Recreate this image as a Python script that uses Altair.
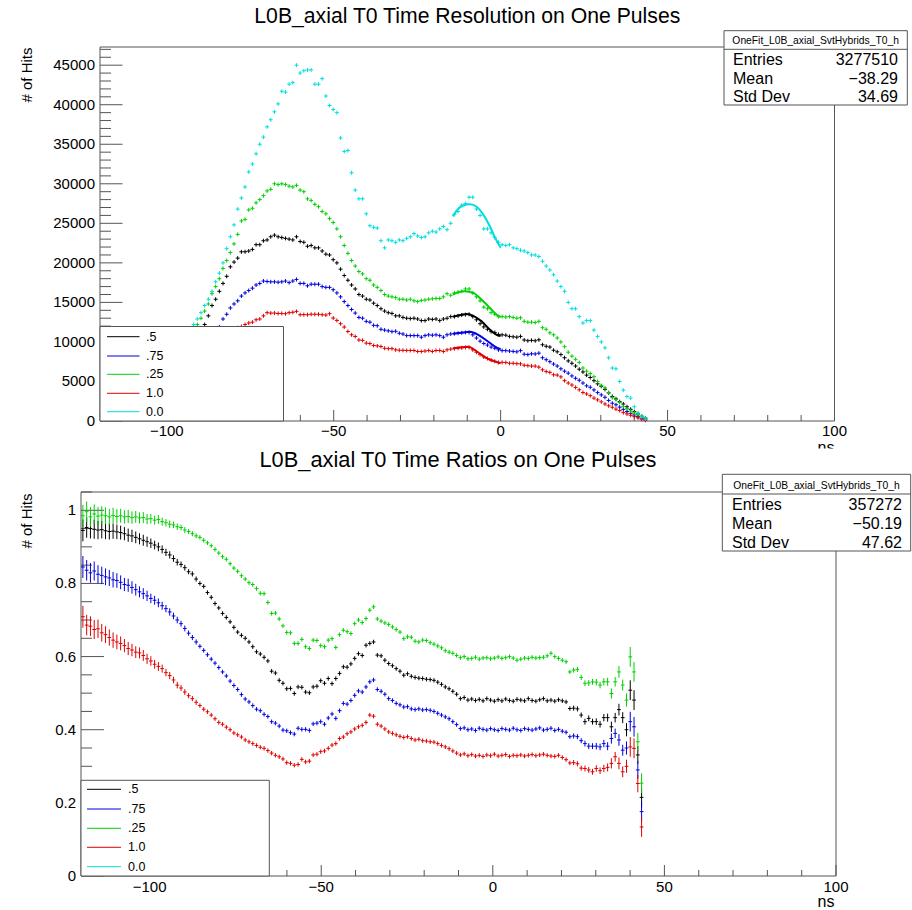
import altair as alt
import pandas as pd

FONT = "Liberation Sans"
FRAME = "#555555"
BIN_W = 1.1
FIRST_CENTER = -119.45

SERIES = [".5", ".75", ".25", "1.0", "0.0"]
SERIES_COLORS = ["#000000", "#0000e0", "#00d000", "#e00000", "#00dede"]

# T0 histograms (hits per 1.1 ns bin), first bin centred at -119.45 ns
cnt_half = [
    850, 945, 1080, 1220, 1360, 1540, 1730, 1950, 2180, 2450,
    2720, 3030, 3350, 3700, 4080, 4510, 4950, 5400, 5900, 6430,
    6980, 7560, 8180, 8820, 9480, 10180, 10900, 11600, 12200, 13300,
    14600, 15400, 16400, 17400, 18300, 19500, 20100, 20600, 21400, 21400,
    21500, 21700, 22300, 22300, 22800, 22900, 23300, 23500, 23300, 23200,
    23100, 23000, 22900, 23300, 22700, 22600, 22100, 22200, 21900, 21900,
    21500, 21100, 21000, 20400, 20000, 19200, 18400, 17800, 17200, 16700,
    16000, 15800, 15400, 15300, 14900, 14600, 14200, 13900, 13700, 13600,
    13300, 13300, 13100, 13000, 12950, 13000, 12900, 12700, 12700, 12900,
    12850, 12900, 12700, 12900, 13000, 13200, 13200, 13300, 13400, 13450,
    13500, 13200, 12800, 12300, 11900, 11600, 11300, 11200, 10950, 10900,
    10850, 10700, 10650, 10600, 10700, 10250, 10150, 10200, 10150, 10270,
    9640, 9450, 9350, 8950, 8750, 8400, 8000, 7600, 7300, 6950,
    6550, 6200, 5800, 5500, 5100, 4700, 4400, 4000, 3550, 3100,
    2800, 2450, 2150, 1800, 1480, 1180, 900, 600, 340,
]
cnt_three_quarter = [
    760, 840, 960, 1080, 1210, 1370, 1540, 1730, 1940, 2180,
    2420, 2690, 2970, 3280, 3620, 3990, 4370, 4780, 5210, 5660,
    6130, 6620, 7140, 7680, 8220, 8700, 9000, 9300, 9600, 10200,
    10800, 11300, 11900, 12900, 13500, 14300, 14800, 15200, 15800, 16200,
    16500, 16800, 17200, 17400, 17700, 17650, 17600, 17600, 17550, 17600,
    17700, 17500, 17700, 17900, 17400, 17400, 17100, 17300, 17300, 17300,
    17000, 16900, 16900, 16600, 16200, 15700, 15100, 14600, 14100, 13650,
    13100, 13000, 12600, 12500, 12100, 12050, 11600, 11500, 11400, 11300,
    11350, 11100, 11000, 10800, 10800, 10800, 10800, 10600, 10800, 10900,
    10850, 10900, 10800, 10600, 10900, 11000, 11050, 11100, 11150, 11200,
    11200, 10900, 10500, 10100, 9800, 9600, 9350, 9200, 9000, 8900,
    8900, 8850, 8800, 8750, 8900, 8450, 8400, 8500, 8480, 8580,
    8000, 7750, 7500, 7200, 6950, 6600, 6300, 6050, 5700, 5400,
    5150, 4800, 4450, 4270, 3930, 3590, 3300, 3000, 2600, 2250,
    2050, 1750, 1480, 1200, 970, 760, 560, 360, 150,
]
cnt_quarter = [
    880, 980, 1120, 1270, 1420, 1610, 1810, 2050, 2300, 2590,
    2880, 3220, 3560, 3950, 4390, 4870, 5350, 5870, 6440, 7050,
    7700, 8380, 9100, 9850, 10650, 11500, 12200, 13000, 13900, 14800,
    16100, 17000, 18000, 19300, 20300, 21300, 22400, 23600, 25300, 25500,
    26700, 26900, 27600, 28000, 28500, 29100, 29300, 30000, 29900, 30000,
    29900, 29700, 29600, 29800, 29200, 29000, 28100, 27900, 27400, 27100,
    26500, 26200, 25600, 25100, 24300, 23300, 22200, 21200, 20300, 19600,
    18900, 18600, 18000, 17800, 17200, 16900, 16500, 16000, 15800, 15700,
    15600, 15400, 15400, 15300, 15400, 15200, 15100, 15250, 15300, 15400,
    15450, 15500, 15500, 15700, 16100, 15900, 16200, 16300, 16400, 16700,
    16700, 16200, 15700, 15200, 14400, 14200, 13700, 13500, 13200, 13200,
    13150, 13200, 13100, 13000, 13050, 12600, 12500, 12500, 12450, 12600,
    11800, 11600, 11150, 10900, 10500, 10000, 9400, 8700, 8200, 7800,
    7400, 6700, 6300, 6000, 5600, 5000, 4500, 4180, 3600, 2950,
    2700, 2350, 1850, 1550, 1250, 1000, 780, 620, 400,
]
cnt_one = [
    630, 700, 800, 900, 1010, 1140, 1280, 1440, 1610, 1800,
    2000, 2220, 2450, 2700, 2970, 3260, 3570, 3890, 4230, 4580,
    4950, 5330, 5720, 6130, 6550, 6980, 7420, 7870, 8320, 8780,
    9230, 9680, 10120, 10550, 10950, 11300, 11600, 11800, 11950, 12200,
    12400, 12500, 12800, 12900, 13300, 13700, 13650, 13650, 13600, 13600,
    13570, 13700, 13750, 13860, 13440, 13450, 13440, 13500, 13500, 13500,
    13440, 13400, 13570, 13020, 12720, 12300, 11880, 11320, 10900, 10690,
    10250, 10200, 9850, 9790, 9550, 9500, 9420, 9200, 9150, 9150,
    9000, 8950, 8940, 8920, 8920, 8920, 8790, 8790, 8850, 8920,
    8790, 8920, 8920, 8790, 9000, 9090, 9150, 9200, 9250, 9300,
    9300, 9000, 8700, 8400, 8100, 7900, 7700, 7550, 7400, 7420,
    7400, 7300, 7300, 7250, 7230, 7050, 7000, 6950, 6940, 6810,
    6470, 6250, 6150, 5850, 5800, 5580, 5100, 4800, 4550, 4250,
    3950, 3600, 3420, 3200, 2900, 2670, 2420, 2150, 1920, 1740,
    1500, 1320, 1060, 890, 720, 550, 400, 220, 100,
]
cnt_zero = [
    900, 1000, 1150, 1300, 1450, 1650, 1850, 2100, 2350, 2650,
    2950, 3300, 3650, 4050, 4500, 5000, 5500, 6050, 6650, 7300,
    8000, 8750, 9550, 10400, 11300, 12200, 12900, 13700, 14600, 15400,
    16400, 17600, 18700, 20000, 21800, 23300, 24800, 26800, 28200, 29600,
    31500, 32500, 33800, 35000, 35900, 37200, 38100, 39100, 40100, 41700,
    41600, 42600, 42800, 45000, 44000, 44300, 44400, 44400, 42600, 42600,
    43300, 41100, 39900, 39400, 39000, 35800, 34100, 34200, 31400, 29200,
    28100, 28100, 26200, 24700, 24500, 24400, 22800, 21900, 22900, 22800,
    22600, 22900, 22800, 23100, 23300, 23700, 23400, 23200, 23300, 23800,
    24000, 23900, 24300, 24600, 24200, 25000, 26100, 26500, 27300, 27500,
    28300, 28300, 26800, 26000, 24300, 24300, 23800, 23200, 22600, 22300,
    22200, 22300, 21900, 21800, 21600, 21500, 21300, 21000, 21000, 20800,
    20200, 19600, 19100, 18500, 17700, 17000, 16400, 15000, 14200, 14200,
    13200, 12400, 12700, 12700, 11500, 10700, 10000, 9250, 8000, 6700,
    6600, 5000, 3900, 3100, 2900, 1800, 1000, 550, 250,
]

# pulse fits drawn over the second peak (t in ns, hits)
fit_t_half = [-14.3, -11.7, -10.2, -8.2, -5.7, -3.2, -1.2, 0.0]
fit_n_half = [13200, 13440, 13520, 13300, 12600, 11540, 10900, 10750]
fit_t_three_quarter = [-14.3, -11.2, -9.2, -6.7, -4.2, -1.7, 0.0]
fit_n_three_quarter = [11030, 11200, 11280, 10900, 10180, 9420, 9090]
fit_t_quarter = [-14.3, -12.5, -10.7, -8.2, -5.7, -3.2, -1.2, 0.0]
fit_n_quarter = [16000, 16300, 16400, 16200, 15340, 14300, 13440, 13150]
fit_t_one = [-14.3, -12.0, -9.7, -6.7, -4.2, -1.7, 0.0]
fit_n_one = [9200, 9330, 9400, 8660, 7950, 7520, 7310]
fit_t_zero = [-14.3, -12.7, -11.2, -9.2, -7.2, -5.2, -3.2, -1.7, 0.0]
fit_n_zero = [25900, 26850, 27260, 27400, 27100, 26100, 24600, 23200, 21900]

# ratio of each threshold to the 0.0 threshold, same binning
ratio_half = [
    0.945, 0.953, 0.950, 0.948, 0.946, 0.947, 0.944, 0.942, 0.943, 0.941,
    0.939, 0.936, 0.932, 0.930, 0.926, 0.922, 0.918, 0.914, 0.910, 0.905,
    0.900, 0.893, 0.885, 0.878, 0.868, 0.858, 0.852, 0.843, 0.832, 0.826,
    0.812, 0.800, 0.792, 0.775, 0.762, 0.745, 0.733, 0.718, 0.707, 0.695,
    0.680, 0.667, 0.658, 0.650, 0.640, 0.627, 0.613, 0.607, 0.598, 0.588,
    0.560, 0.555, 0.535, 0.527, 0.512, 0.513, 0.499, 0.517, 0.516, 0.503,
    0.501, 0.517, 0.519, 0.534, 0.527, 0.540, 0.526, 0.540, 0.554, 0.572,
    0.571, 0.580, 0.595, 0.608, 0.603, 0.631, 0.636, 0.640, 0.604, 0.602,
    0.590, 0.581, 0.575, 0.567, 0.560, 0.549, 0.553, 0.546, 0.543, 0.541,
    0.540, 0.538, 0.537, 0.535, 0.530, 0.524, 0.517, 0.512, 0.505, 0.497,
    0.485, 0.488, 0.481, 0.484, 0.480, 0.483, 0.479, 0.485, 0.481, 0.478,
    0.482, 0.479, 0.484, 0.480, 0.478, 0.483, 0.481, 0.479, 0.485, 0.480,
    0.478, 0.482, 0.485, 0.479, 0.481, 0.478, 0.482, 0.479, 0.476, 0.458,
    0.459, 0.457, 0.440, 0.422, 0.431, 0.422, 0.422, 0.415, 0.433, 0.433,
    0.408, 0.433, 0.455, 0.433, 0.400, 0.508, 0.481, 0.331, 0.215,
]
ratio_three_quarter = [
    0.845, 0.836, 0.829, 0.834, 0.825, 0.822, 0.818, 0.815, 0.810, 0.808,
    0.803, 0.797, 0.795, 0.789, 0.783, 0.777, 0.772, 0.766, 0.759, 0.754,
    0.747, 0.739, 0.731, 0.722, 0.711, 0.700, 0.690, 0.677, 0.664, 0.652,
    0.640, 0.628, 0.617, 0.605, 0.593, 0.582, 0.570, 0.558, 0.547, 0.533,
    0.521, 0.510, 0.496, 0.484, 0.476, 0.466, 0.456, 0.452, 0.442, 0.436,
    0.422, 0.418, 0.410, 0.399, 0.397, 0.392, 0.388, 0.404, 0.401, 0.401,
    0.398, 0.416, 0.418, 0.422, 0.415, 0.432, 0.443, 0.431, 0.452, 0.472,
    0.470, 0.480, 0.494, 0.506, 0.503, 0.517, 0.531, 0.536, 0.510, 0.505,
    0.497, 0.485, 0.480, 0.472, 0.468, 0.462, 0.463, 0.457, 0.455, 0.457,
    0.454, 0.455, 0.453, 0.450, 0.445, 0.440, 0.435, 0.430, 0.422, 0.414,
    0.403, 0.405, 0.400, 0.402, 0.398, 0.404, 0.401, 0.399, 0.403, 0.400,
    0.398, 0.403, 0.401, 0.399, 0.404, 0.400, 0.398, 0.403, 0.401, 0.399,
    0.402, 0.405, 0.399, 0.401, 0.404, 0.398, 0.401, 0.396, 0.393, 0.381,
    0.383, 0.381, 0.370, 0.362, 0.355, 0.355, 0.355, 0.353, 0.362, 0.355,
    0.376, 0.390, 0.372, 0.344, 0.350, 0.422, 0.408, 0.290, 0.176,
]
ratio_quarter = [
    0.985, 0.996, 0.982, 0.990, 0.984, 0.987, 0.985, 0.982, 0.986, 0.983,
    0.985, 0.982, 0.983, 0.980, 0.982, 0.979, 0.980, 0.976, 0.977, 0.973,
    0.975, 0.969, 0.966, 0.962, 0.960, 0.955, 0.953, 0.946, 0.942, 0.936,
    0.930, 0.926, 0.918, 0.911, 0.903, 0.893, 0.883, 0.873, 0.866, 0.854,
    0.842, 0.833, 0.821, 0.812, 0.802, 0.797, 0.786, 0.773, 0.772, 0.748,
    0.718, 0.719, 0.703, 0.684, 0.666, 0.665, 0.636, 0.636, 0.647, 0.627,
    0.622, 0.645, 0.644, 0.630, 0.627, 0.645, 0.649, 0.625, 0.660, 0.672,
    0.668, 0.663, 0.690, 0.700, 0.693, 0.704, 0.727, 0.736, 0.703, 0.697,
    0.692, 0.688, 0.681, 0.674, 0.667, 0.649, 0.654, 0.653, 0.642, 0.640,
    0.645, 0.644, 0.638, 0.634, 0.629, 0.624, 0.616, 0.612, 0.609, 0.603,
    0.597, 0.600, 0.594, 0.595, 0.598, 0.593, 0.596, 0.597, 0.594, 0.596,
    0.599, 0.595, 0.597, 0.600, 0.596, 0.590, 0.593, 0.596, 0.595, 0.598,
    0.596, 0.597, 0.598, 0.602, 0.609, 0.600, 0.595, 0.590, 0.586, 0.558,
    0.563, 0.565, 0.543, 0.527, 0.528, 0.531, 0.530, 0.522, 0.531, 0.531,
    0.499, 0.531, 0.558, 0.522, 0.481, 0.599, 0.558, 0.367, 0.254,
]
ratio_one = [
    0.709, 0.686, 0.683, 0.674, 0.676, 0.665, 0.660, 0.652, 0.645, 0.640,
    0.636, 0.630, 0.622, 0.618, 0.612, 0.610, 0.603, 0.594, 0.588, 0.579,
    0.573, 0.567, 0.556, 0.548, 0.536, 0.522, 0.514, 0.503, 0.493, 0.485,
    0.475, 0.466, 0.456, 0.449, 0.440, 0.430, 0.420, 0.415, 0.407, 0.400,
    0.391, 0.386, 0.380, 0.372, 0.367, 0.362, 0.357, 0.352, 0.349, 0.343,
    0.336, 0.330, 0.326, 0.320, 0.310, 0.308, 0.303, 0.305, 0.319, 0.312,
    0.314, 0.331, 0.333, 0.340, 0.342, 0.349, 0.358, 0.362, 0.376, 0.380,
    0.389, 0.394, 0.402, 0.408, 0.412, 0.420, 0.440, 0.437, 0.415, 0.410,
    0.402, 0.394, 0.390, 0.386, 0.382, 0.379, 0.381, 0.376, 0.372, 0.374,
    0.370, 0.369, 0.367, 0.366, 0.362, 0.357, 0.353, 0.348, 0.342, 0.336,
    0.331, 0.334, 0.329, 0.332, 0.328, 0.330, 0.327, 0.331, 0.329, 0.333,
    0.328, 0.330, 0.332, 0.327, 0.330, 0.329, 0.331, 0.328, 0.330, 0.332,
    0.329, 0.331, 0.333, 0.330, 0.328, 0.327, 0.330, 0.324, 0.318, 0.309,
    0.310, 0.307, 0.295, 0.294, 0.290, 0.285, 0.294, 0.288, 0.294, 0.297,
    0.308, 0.326, 0.308, 0.285, 0.300, 0.353, 0.349, 0.253, 0.134,
]
ratio_err = [
    0.030, 0.028, 0.027, 0.026, 0.025, 0.024, 0.023, 0.022, 0.021, 0.020,
    0.019, 0.018, 0.018, 0.017, 0.016, 0.015, 0.015, 0.014, 0.013, 0.012,
    0.012, 0.011, 0.010, 0.010, 0.009, 0.009, 0.008, 0.008, 0.007, 0.007,
    0.007, 0.006, 0.006, 0.006, 0.006, 0.006, 0.006, 0.006, 0.006, 0.006,
    0.006, 0.006, 0.006, 0.006, 0.006, 0.006, 0.006, 0.006, 0.006, 0.006,
    0.006, 0.006, 0.006, 0.006, 0.006, 0.006, 0.006, 0.006, 0.006, 0.006,
    0.006, 0.006, 0.006, 0.006, 0.006, 0.006, 0.006, 0.006, 0.006, 0.006,
    0.006, 0.006, 0.006, 0.006, 0.006, 0.006, 0.006, 0.006, 0.006, 0.006,
    0.006, 0.006, 0.006, 0.006, 0.006, 0.006, 0.006, 0.006, 0.006, 0.006,
    0.006, 0.006, 0.006, 0.006, 0.006, 0.006, 0.006, 0.006, 0.006, 0.006,
    0.006, 0.006, 0.006, 0.006, 0.006, 0.006, 0.006, 0.006, 0.006, 0.006,
    0.006, 0.006, 0.006, 0.006, 0.006, 0.006, 0.006, 0.006, 0.006, 0.006,
    0.006, 0.006, 0.006, 0.006, 0.006, 0.006, 0.006, 0.006, 0.006, 0.006,
    0.007, 0.007, 0.007, 0.008, 0.008, 0.008, 0.009, 0.009, 0.010, 0.011,
    0.014, 0.013, 0.016, 0.015, 0.018, 0.027, 0.027, 0.024, 0.027,
]

stats_top = ["OneFit_L0B_axial_SvtHybrids_T0_h", "3277510", "\u221238.29", "34.69"]
stats_bottom = ["OneFit_L0B_axial_SvtHybrids_T0_h", "357272", "\u221250.19", "47.62"]
stat_labels = ["Entries", "Mean", "Std Dev"]

title_top = "L0B_axial T0 Time Resolution on One Pulses"
title_bottom = "L0B_axial T0 Time Ratios on One Pulses"

counts = [cnt_half, cnt_three_quarter, cnt_quarter, cnt_one, cnt_zero]
ratios = [ratio_half, ratio_three_quarter, ratio_quarter, ratio_one]
fits = [
    (fit_t_half, fit_n_half),
    (fit_t_three_quarter, fit_n_three_quarter),
    (fit_t_quarter, fit_n_quarter),
    (fit_t_one, fit_n_one),
    (fit_t_zero, fit_n_zero),
]
for arr in counts + ratios + [ratio_err]:
    assert len(arr) == len(cnt_zero)


def centers(n):
    return [round(FIRST_CENTER + BIN_W * i, 3) for i in range(n)]


top_rows = []
for name, series in zip(SERIES, counts):
    for t, n in zip(centers(len(series)), series):
        top_rows.append({"series": name, "t": t, "n": n})
top_df = pd.DataFrame(top_rows)

fit_rows = []
for name, (ts, ns) in zip(SERIES, fits):
    for t, n in zip(ts, ns):
        fit_rows.append({"series": name, "t": t, "n": n})
fit_df = pd.DataFrame(fit_rows)

bot_rows = []
for name, series in zip(SERIES[:4], ratios):
    for t, r, e in zip(centers(len(series)), series, ratio_err):
        bot_rows.append({
            "series": name, "t": t, "t_lo": t - BIN_W / 2, "t_hi": t + BIN_W / 2,
            "r": r, "r_lo": r - e, "r_hi": r + e,
        })
bot_df = pd.DataFrame(bot_rows)

# pixel placement of the two pads on the 912x910 canvas
top_xs = alt.Scale(domain=[-120, 100], range=[100, 834.5], nice=False, zero=False)
top_ys = alt.Scale(domain=[0, 47300], range=[421, 47], nice=False, zero=False)
bot_xs = alt.Scale(domain=[-120, 100], range=[81, 836], nice=False, zero=False)
bot_ys = alt.Scale(domain=[0, 1.05], range=[876, 492], nice=False, zero=False)
color_scale = alt.Scale(domain=SERIES, range=SERIES_COLORS)
CROSS = "M-1,0L1,0M0,-1L0,1"

ONE = pd.DataFrame({"k": [0]})


def text_mark(x, y, s, size, align="left", baseline="alphabetic", angle=None):
    props = dict(align=align, baseline=baseline, font=FONT, fontSize=size, color="black")
    if angle is not None:
        props["angle"] = angle
    return alt.Chart(ONE).mark_text(**props).encode(
        x=alt.value(x), y=alt.value(y), text=alt.value(s))


def box(x1, y1, x2, y2, stroke=FRAME, fill="white"):
    return alt.Chart(ONE).mark_rect(fill=fill, stroke=stroke, strokeWidth=1).encode(
        x=alt.value(x1), x2=alt.value(x2), y=alt.value(y1), y2=alt.value(y2))


def hline(x1, x2, y, color=FRAME, width=1):
    return alt.Chart(ONE).mark_rule(color=color, strokeWidth=width).encode(
        x=alt.value(x1), x2=alt.value(x2), y=alt.value(y))


def frame(xs, ys, ytop):
    df = pd.DataFrame({"x1": [-120], "x2": [100], "y1": [0], "y2": [ytop]})
    return alt.Chart(df).mark_rect(fill="white", stroke=FRAME, strokeWidth=1).encode(
        x=alt.X("x1:Q", scale=xs, axis=None), x2="x2:Q",
        y=alt.Y("y1:Q", scale=ys, axis=None), y2="y2:Q")


def y_ticks(values, ys, x0, length):
    return alt.Chart(pd.DataFrame({"v": values})).mark_rule(color=FRAME, strokeWidth=1).encode(
        y=alt.Y("v:Q", scale=ys, axis=None), x=alt.value(x0), x2=alt.value(x0 + length))


def x_ticks(values, xs, y0, length):
    return alt.Chart(pd.DataFrame({"v": values})).mark_rule(color=FRAME, strokeWidth=1).encode(
        x=alt.X("v:Q", scale=xs, axis=None), y=alt.value(y0), y2=alt.value(y0 - length))


def y_labels(values, ys, x, fmt):
    return alt.Chart(pd.DataFrame({"v": values})).mark_text(
        align="right", baseline="middle", font=FONT, fontSize=15, color="black"
    ).encode(y=alt.Y("v:Q", scale=ys, axis=None), x=alt.value(x),
             text=alt.Text("v:Q", format=fmt))


def x_labels(values, xs, y):
    return alt.Chart(pd.DataFrame({"v": values})).mark_text(
        align="center", baseline="middle", font=FONT, fontSize=15, color="black"
    ).encode(x=alt.X("v:Q", scale=xs, axis=None), y=alt.value(y),
             text=alt.Text("v:Q", format="d"))


def legend(x1, y1, x2, y2, rows, lx1, lx2, tx):
    out = [box(x1, y1, x2, y2)]
    for name, color, ry in zip(SERIES, SERIES_COLORS, rows):
        out.append(hline(lx1, lx2, ry, color=color))
        out.append(text_mark(tx, ry, name, 12.5, baseline="middle"))
    return out


def stats(x1, y1, ydiv, x2, y2, header_y, row_ys, lx, vx, values):
    out = [box(x1, y1, x2, y2), hline(x1, x2, ydiv)]
    out.append(text_mark((x1 + x2) / 2, header_y, values[0], 10.3, align="center"))
    for label, val, ry in zip(stat_labels, values[1:], row_ys):
        out.append(text_mark(lx, ry, label, 16))
        out.append(text_mark(vx, ry, val, 16, align="right"))
    return out


x_major = [-100, -50, 0, 50, 100]
x_minor = [v for v in range(-110, 100, 10) if v % 50]

top_y_major = list(range(0, 45001, 5000))
top_y_minor = [v for v in range(1000, 47001, 1000) if v % 5000]
bot_y_major = [0, 0.2, 0.4, 0.6, 0.8, 1.0]
bot_y_minor = [0.05, 0.1, 0.15, 0.25, 0.3, 0.35, 0.45, 0.5, 0.55,
               0.65, 0.7, 0.75, 0.85, 0.9, 0.95, 1.05]

# ---- upper pad: T0 distributions ----
top_layers = [
    frame(top_xs, top_ys, 47300),
    y_ticks(top_y_major, top_ys, 100, 22.5),
    y_ticks(top_y_minor, top_ys, 100, 11),
    x_ticks(x_major, top_xs, 421, 11),
    x_ticks(x_minor, top_xs, 421, 6),
    alt.Chart(top_df).mark_point(
        shape=CROSS, size=16, filled=False, strokeWidth=1, opacity=1
    ).encode(
        x=alt.X("t:Q", scale=top_xs, axis=None),
        y=alt.Y("n:Q", scale=top_ys, axis=None),
        color=alt.Color("series:N", scale=color_scale, legend=None),
    ),
    alt.Chart(fit_df).mark_line(strokeWidth=2, interpolate="monotone").encode(
        x=alt.X("t:Q", scale=top_xs, axis=None),
        y=alt.Y("n:Q", scale=top_ys, axis=None),
        color=alt.Color("series:N", scale=color_scale, legend=None),
        detail="series:N",
    ),
]
top_layers += legend(100, 326.5, 283.5, 421, [336.7, 356, 374.3, 393.3, 411.7], 107, 139.5, 146)
top_layers += stats(724, 30.7, 49.3, 907.3, 105, 44, [65, 84, 102.3], 733, 898, stats_top)
top_layers += [
    y_labels(top_y_major, top_ys, 95, "d"),
    x_labels(x_major, top_xs, 431),
    text_mark(467.3, 23, title_top, 21.2, align="center"),
    text_mark(27, 75, "# of Hits", 15, align="center", baseline="middle", angle=270),
    text_mark(826, 453, "ns", 16, align="center"),
    box(800, 449, 860, 462, stroke="white"),
]

# ---- lower pad: ratios to the 0.0 threshold ----
bot_layers = [
    frame(bot_xs, bot_ys, 1.05),
    y_ticks(bot_y_major, bot_ys, 81, 23),
    y_ticks(bot_y_minor, bot_ys, 81, 11),
    x_ticks(x_major, bot_xs, 876, 11),
    x_ticks(x_minor, bot_xs, 876, 6),
    alt.Chart(bot_df).mark_rule(strokeWidth=1).encode(
        x=alt.X("t_lo:Q", scale=bot_xs, axis=None), x2="t_hi:Q",
        y=alt.Y("r:Q", scale=bot_ys, axis=None),
        color=alt.Color("series:N", scale=color_scale, legend=None),
    ),
    alt.Chart(bot_df).mark_rule(strokeWidth=1).encode(
        x=alt.X("t:Q", scale=bot_xs, axis=None),
        y=alt.Y("r_lo:Q", scale=bot_ys, axis=None), y2="r_hi:Q",
        color=alt.Color("series:N", scale=color_scale, legend=None),
    ),
]
bot_layers += legend(81, 780.3, 269.3, 876, [789.3, 809, 828.3, 847.3, 866.7], 87, 121, 128)
bot_layers += stats(722.3, 474.3, 494, 910.7, 551, 489, [510, 529.3, 548.3], 732, 902, stats_bottom)
bot_layers += [
    y_labels(bot_y_major, bot_ys, 76, "~g"),
    x_labels(x_major, bot_xs, 886.5),
    text_mark(458, 466.5, title_bottom, 21.8, align="center"),
    text_mark(27, 521, "# of Hits", 15, align="center", baseline="middle", angle=270),
    text_mark(826, 907, "ns", 16, align="center"),
]

chart = (
    alt.layer(*(top_layers + bot_layers))
    .resolve_scale(x="independent", y="independent")
    .properties(
        width=912, height=910, padding=0, background="white",
        autosize=alt.AutoSizeParams(type="none"),
    )
    .configure_view(strokeWidth=0)
)

chart.save("out.html", embed_options={"renderer": "svg", "actions": False})
